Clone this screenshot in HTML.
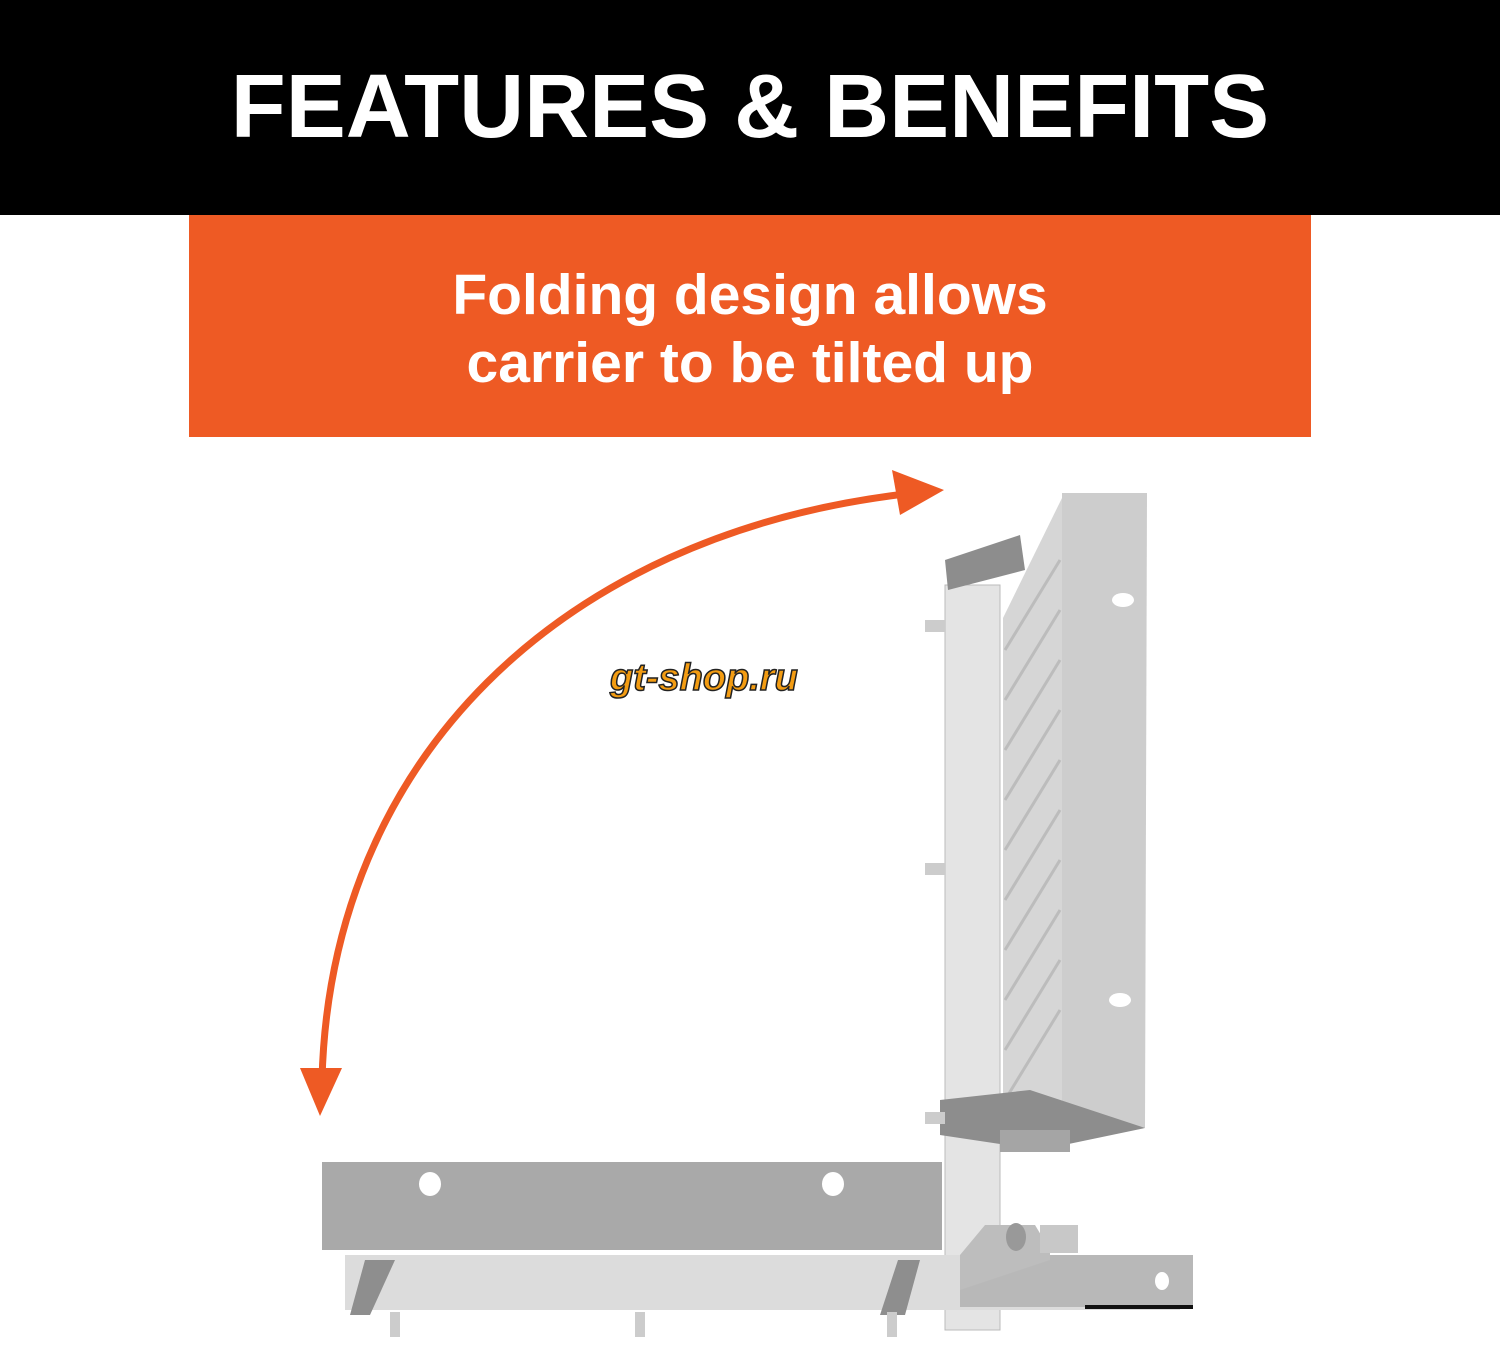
<!DOCTYPE html>
<html><head><meta charset="utf-8"><style>
html,body{margin:0;padding:0;background:#fff;}
.wrap{position:relative;width:1500px;height:1350px;overflow:hidden;background:#fff;font-family:"Liberation Sans",sans-serif;}
.hdr{position:absolute;left:0;top:0;width:1500px;height:215px;background:#000;color:#fff;font-weight:bold;font-size:90px;text-align:center;line-height:215px;letter-spacing:0px;}
.org{position:absolute;left:189px;top:215px;width:1122px;height:222px;background:#EE5A24;color:#fff;font-weight:bold;font-size:57px;text-align:center;line-height:68px;}
.org div{position:absolute;left:0;width:100%;}
</style></head><body><div class="wrap">
<div class="hdr">FEATURES &amp; BENEFITS</div>
<div class="org"><div style="top:46px">Folding design allows</div><div style="top:114px">carrier to be tilted up</div></div>
<svg width="1500" height="1350" style="position:absolute;left:0;top:0">
<path d="M322,1080 C330,760 560,535 905,494" fill="none" stroke="#EE5A24" stroke-width="7"/>
<polygon points="320,1116 300,1068 342,1068" fill="#EE5A24"/>
<polygon points="944,490 892,470 900,515" fill="#EE5A24"/>
<text x="610" y="690" font-family="Liberation Sans" font-weight="bold" font-style="italic" font-size="38" fill="#F39C12" stroke="#222" stroke-width="1.5">gt-shop.ru</text>
<rect x="945" y="585" width="55" height="745" fill="#e4e4e4" stroke="#bbb"/>
<polygon points="1003,618 1062,498 1062,1118 1003,1135" fill="#d6d6d6"/>
<g stroke="#bcbcbc" stroke-width="3">
<line x1="1005" y1="650" x2="1060" y2="560"/><line x1="1005" y1="700" x2="1060" y2="610"/><line x1="1005" y1="750" x2="1060" y2="660"/><line x1="1005" y1="800" x2="1060" y2="710"/><line x1="1005" y1="850" x2="1060" y2="760"/><line x1="1005" y1="900" x2="1060" y2="810"/><line x1="1005" y1="950" x2="1060" y2="860"/><line x1="1005" y1="1000" x2="1060" y2="910"/><line x1="1005" y1="1050" x2="1060" y2="960"/><line x1="1005" y1="1100" x2="1060" y2="1010"/></g>
<polygon points="1062,493 1147,493 1145,1128 1062,1118" fill="#cdcdcd"/>
<ellipse cx="1123" cy="600" rx="11" ry="7" fill="#fff"/>
<ellipse cx="1120" cy="1000" rx="11" ry="7" fill="#fff"/>
<polygon points="945,560 1020,535 1025,570 948,590" fill="#8d8d8d"/>
<polygon points="940,1100 1030,1090 1145,1128 1040,1150 940,1135" fill="#8d8d8d"/>
<rect x="1000" y="1130" width="70" height="22" fill="#a5a5a5"/>
<rect x="925" y="620" width="20" height="12" fill="#ccc"/>
<rect x="925" y="863" width="20" height="12" fill="#ccc"/>
<rect x="925" y="1112" width="20" height="12" fill="#ccc"/>
<rect x="322" y="1162" width="620" height="88" fill="#a9a9a9"/>
<ellipse cx="430" cy="1184" rx="11" ry="12" fill="#fff"/>
<ellipse cx="833" cy="1184" rx="11" ry="12" fill="#fff"/>
<rect x="345" y="1255" width="835" height="55" fill="#dcdcdc"/>
<polygon points="365,1260 395,1260 370,1315 350,1315" fill="#8e8e8e"/>
<polygon points="898,1260 920,1260 905,1315 880,1315" fill="#8e8e8e"/>
<rect x="390" y="1312" width="10" height="25" fill="#ccc"/><rect x="635" y="1312" width="10" height="25" fill="#ccc"/><rect x="887" y="1312" width="10" height="25" fill="#ccc"/>
<rect x="960" y="1255" width="233" height="52" fill="#b8b8b8"/>
<rect x="1085" y="1305" width="108" height="4" fill="#111"/>
<polygon points="960,1255 985,1225 1035,1225 1050,1250 1050,1260 960,1290" fill="#bdbdbd"/>
<rect x="1040" y="1225" width="38" height="28" fill="#c8c8c8"/>
<ellipse cx="1016" cy="1237" rx="10" ry="14" fill="#999"/>
<ellipse cx="1162" cy="1281" rx="7" ry="9" fill="#fff"/>
</svg>
</div></body></html>
